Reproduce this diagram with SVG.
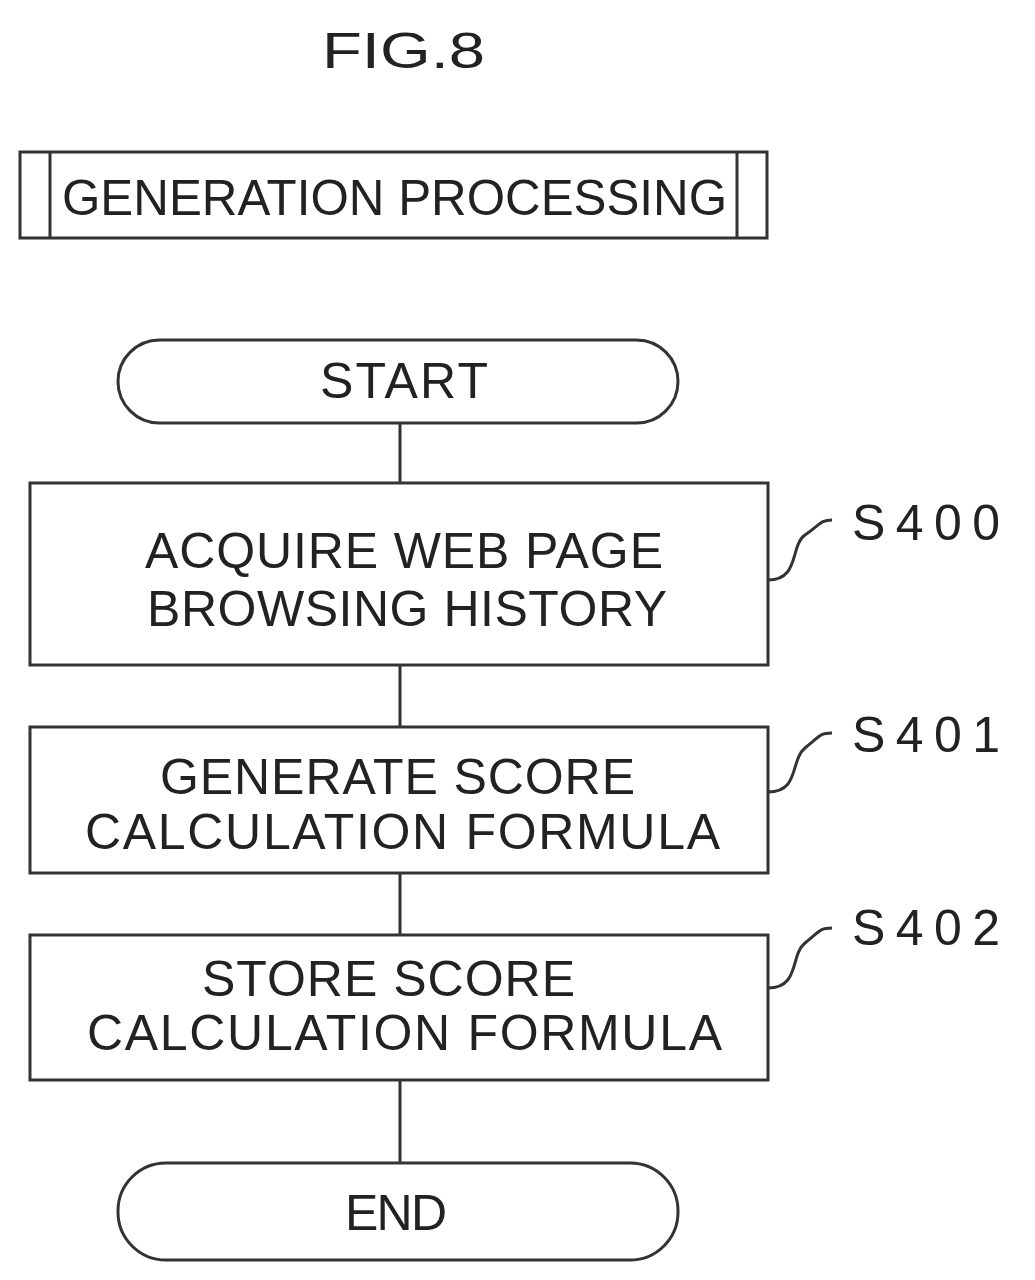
<svg xmlns="http://www.w3.org/2000/svg" width="1035" height="1280" viewBox="0 0 1035 1280">
<style>
.s{fill:none;stroke:#333;stroke-width:3}
.t{font-family:"Liberation Sans",Arial,sans-serif;font-size:50px;fill:#222}
.l{font-family:"Liberation Sans",Arial,sans-serif;font-size:50px;fill:#222}
</style>
<rect width="1035" height="1280" fill="#fff"/>
<text class="t" x="322" y="68" font-size="56" textLength="163" lengthAdjust="spacingAndGlyphs">FIG.8</text>
<g id="title"><rect class="s" x="20" y="152" width="747" height="86"/><line class="s" x1="50" y1="152" x2="50" y2="238"/><line class="s" x1="737" y1="152" x2="737" y2="238"/><text class="t" x="62" y="215" textLength="665" lengthAdjust="spacingAndGlyphs">GENERATION PROCESSING</text></g>
<g id="connectors">
<line class="s" x1="400" y1="423" x2="400" y2="483"/>
<line class="s" x1="400" y1="665" x2="400" y2="727"/>
<line class="s" x1="400" y1="873" x2="400" y2="935"/>
<line class="s" x1="400" y1="1080" x2="400" y2="1163"/>
<path class="s" d="M768 580 C800 580 790 545 805 535 S820 520 832 520"/>
<path class="s" d="M768 792 C800 792 790 760 805 748 S820 733 832 733"/>
<path class="s" d="M768 988 C800 988 790 955 805 943 S820 928 832 928"/>
</g>
<g id="start"><rect class="s" x="118" y="340" width="560" height="83" rx="41.5"/><text class="t" x="320" y="398" textLength="168">START</text></g>
<g id="s400"><rect class="s" x="30" y="483" width="738" height="182"/><text class="t" x="145" y="568" textLength="518">ACQUIRE WEB PAGE</text><text class="t" x="147" y="626" textLength="520">BROWSING HISTORY</text><text class="l" x="852" y="540" textLength="148">S400</text></g>
<g id="s401"><rect class="s" x="30" y="727" width="738" height="146"/><text class="t" x="160" y="794" textLength="475">GENERATE SCORE</text><text class="t" x="85" y="849" textLength="635">CALCULATION FORMULA</text><text class="l" x="852" y="752" textLength="148">S401</text></g>
<g id="s402"><rect class="s" x="30" y="935" width="738" height="145"/><text class="t" x="202" y="996" font-size="48" textLength="373">STORE SCORE</text><text class="t" x="87" y="1050" font-size="48" textLength="635">CALCULATION FORMULA</text><text class="l" x="852" y="945" textLength="148">S402</text></g>
<g id="end"><rect class="s" x="118" y="1163" width="560" height="97" rx="48"/><text class="t" x="345" y="1230" textLength="102">END</text></g>
</svg>
